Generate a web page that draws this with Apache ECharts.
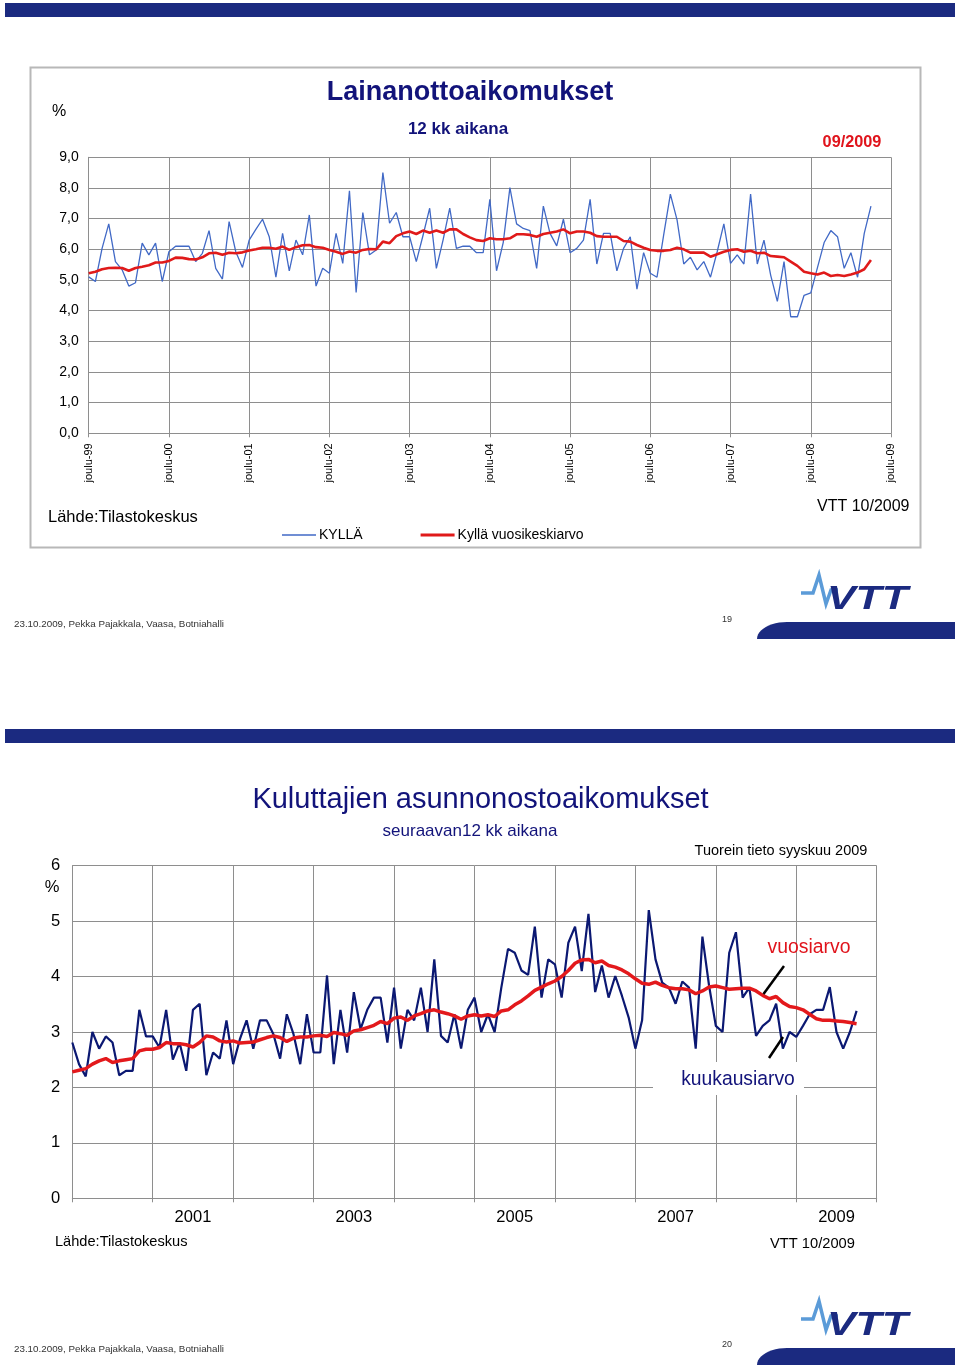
<!DOCTYPE html>
<html><head><meta charset="utf-8">
<script src="https://cdn.jsdelivr.net/npm/echarts@6/dist/echarts.min.js"></script>
<style>html,body{margin:0;padding:0;background:#fff}#c{width:960px;height:1370px}</style>
</head><body><div id="c"></div>
<script>
// ---------- data ----------
const monthNames = ['tammi','helmi','maalis','huhti','touko','kesä','heinä','elo','syys','loka','marras','joulu'];
const firstYear = 1999, firstMonth = 11;   // first slot = joulu-99
const slotCount = 121;                       // joulu-99 ... joulu-09

// Chart 1: Lainanottoaikomukset (KYLLÄ, monthly) 12/1999 - 09/2009
const topMonthly = [
 5.1,4.95,6.03,6.83,5.6,5.33,4.8,4.91,6.2,5.82,6.2,4.95,
 5.92,6.1,6.1,6.1,5.6,5.87,6.61,5.38,5.03,6.9,5.92,5.41,
 6.3,6.65,6.98,6.41,5.09,6.52,5.3,6.3,5.82,7.12,4.8,5.38,
 5.22,6.52,5.54,7.91,4.59,7.2,5.82,5.98,8.5,6.85,7.2,6.41,
 6.41,5.6,6.45,7.34,5.38,6.3,7.34,6.03,6.1,6.1,5.89,5.89,
 7.63,5.3,6.22,8.01,6.83,6.68,6.61,5.38,7.41,6.52,6.11,6.98,
 5.89,6.03,6.3,7.63,5.52,6.52,6.52,5.3,6.03,6.41,4.7,5.89,
 5.22,5.09,6.47,7.8,6.96,5.52,5.74,5.33,5.6,5.09,5.92,6.83,
 5.54,5.82,5.52,7.8,5.52,6.3,5.16,4.3,5.6,3.8,3.8,4.5,
 4.58,5.4,6.22,6.61,6.41,5.38,5.89,5.09,6.52,7.41];
// Kyllä vuosikeskiarvo
const topAnnual = [
 5.22,5.27,5.35,5.39,5.4,5.39,5.3,5.39,5.43,5.48,5.57,5.57,
 5.62,5.73,5.72,5.68,5.67,5.74,5.87,5.89,5.82,5.89,5.87,5.9,
 5.96,6.0,6.05,6.05,6.02,6.09,5.98,6.07,6.13,6.14,6.07,6.05,
 5.98,5.92,5.85,5.93,5.89,5.98,6.01,6.0,6.25,6.2,6.43,6.52,
 6.58,6.5,6.61,6.54,6.61,6.54,6.65,6.65,6.5,6.39,6.3,6.27,
 6.36,6.33,6.33,6.36,6.49,6.49,6.47,6.41,6.5,6.54,6.58,6.65,
 6.52,6.58,6.58,6.54,6.43,6.41,6.41,6.41,6.27,6.25,6.14,6.05,
 5.98,5.95,5.95,5.98,6.05,6.0,5.89,5.89,5.89,5.76,5.84,5.92,
 5.98,6.0,5.92,5.95,5.87,5.89,5.78,5.76,5.74,5.6,5.46,5.27,
 5.22,5.18,5.24,5.13,5.16,5.13,5.18,5.24,5.35,5.65];
const topYLabels = ['0,0','1,0','2,0','3,0','4,0','5,0','6,0','7,0','8,0','9,0'];

// Chart 2: Kuluttajien asunnonostoaikomukset
const bottomMonthly = [
 2.81,2.42,2.2,3.0,2.7,2.92,2.81,2.22,2.3,2.3,3.4,2.92,
 2.92,2.72,3.4,2.5,2.81,2.3,3.4,3.51,2.22,2.63,2.52,3.21,
 2.42,2.87,3.21,2.7,3.21,3.21,2.96,2.52,3.32,2.96,2.42,3.32,
 2.63,2.63,4.02,2.42,3.4,2.63,3.72,3.05,3.4,3.62,3.62,2.81,
 3.8,2.7,3.4,3.21,3.8,3.0,4.31,2.93,2.81,3.32,2.7,3.4,
 3.62,3.0,3.32,3.0,3.8,4.5,4.43,4.11,4.03,4.9,3.62,4.31,
 4.22,3.62,4.61,4.9,4.1,5.13,3.72,4.2,3.62,4.01,3.65,3.26,
 2.7,3.21,5.2,4.31,3.89,3.8,3.51,3.91,3.8,2.7,4.72,3.83,
 3.11,3.0,4.43,4.8,3.62,3.8,2.93,3.11,3.21,3.51,2.7,3.0,
 2.91,3.11,3.32,3.4,3.4,3.81,3.0,2.7,3.0,3.38];
const bottomAnnual = [
 2.28,2.31,2.34,2.42,2.48,2.52,2.45,2.48,2.5,2.52,2.66,2.69,
 2.69,2.72,2.81,2.79,2.79,2.77,2.73,2.81,2.93,2.91,2.84,2.82,
 2.84,2.8,2.81,2.82,2.86,2.9,2.93,2.9,2.83,2.89,2.91,2.91,
 2.93,2.94,2.92,2.99,2.97,2.94,3.02,3.04,3.08,3.12,3.19,3.15,
 3.25,3.27,3.21,3.29,3.33,3.38,3.4,3.36,3.33,3.29,3.23,3.29,
 3.31,3.29,3.31,3.28,3.38,3.4,3.49,3.56,3.65,3.75,3.81,3.87,
 3.92,4.0,4.11,4.24,4.3,4.31,4.25,4.28,4.2,4.17,4.12,4.05,
 3.96,3.88,3.86,3.9,3.84,3.8,3.78,3.78,3.76,3.69,3.74,3.81,
 3.83,3.8,3.77,3.78,3.79,3.79,3.74,3.66,3.6,3.64,3.53,3.46,
 3.44,3.4,3.32,3.24,3.21,3.21,3.2,3.19,3.17,3.15];
const bottomYLabels = ['0','1','2','3','4','5','6'];

// ---------- categories ----------
const cats = [], catYears = [];
for (let i = 0; i < slotCount; i++) {
  const m = (firstMonth + i) % 12;
  const y = firstYear + Math.floor((firstMonth + i) / 12);
  cats.push(monthNames[m] + '-' + String(y).slice(2));
  catYears.push(String(y));
}
const everyYear = (i) => i % 12 === 0;
const oddYearMid = (i) => i % 24 === 18;

const FONT = '"Liberation Sans", Arial, sans-serif';
const NAVY = '#12137a';
const BAR = '#1b2a80';
const GRID = '#8e8e8e';

function txt(text, x, y, size, color, opts) {
  opts = opts || {};
  const align = opts.align || 'left';
  return {
    type: 'text', x: x, y: y, z: 10,
    style: {
      text: text,
      font: (opts.style || '') + ' ' + (opts.weight || 'normal') + ' ' + size + 'px ' + FONT,
      fill: color,
      align: align, verticalAlign: 'middle',
      textAlign: align, textVerticalAlign: 'middle'
    }
  };
}
function footerShape(yTop, yBot) {
  const pts = [[955, yBot], [955, yTop]];
  const cx = 787, rx = 30, ry = yBot - yTop;
  for (let k = 0; k <= 12; k++) {
    const t = Math.PI / 2 * k / 12;
    pts.push([cx - rx * Math.sin(t), yBot - ry * Math.cos(t)]);
  }
  return { type: 'polygon', z: 10, shape: { points: pts }, style: { fill: BAR } };
}
function logo(dy) {
  return [
    { type: 'polyline', z: 10, shape: { points: [[801, 593 + dy], [813, 593 + dy], [819, 575 + dy], [826, 604 + dy], [831, 590 + dy], [838, 590 + dy]] },
      style: { stroke: '#5b9bd8', lineWidth: 3.5, fill: null, lineJoin: 'miter' } },
    { type: 'text', x: 827, y: 600 + dy, z: 10, scaleX: 1.3,
      style: { text: 'VTT', font: 'italic bold 33px ' + FONT, fill: BAR, align: 'left', verticalAlign: 'middle', textAlign: 'left', textVerticalAlign: 'middle' } }
  ];
}

const chart = echarts.init(document.getElementById('c'), null, { renderer: 'canvas' });

const xAxisCommon = {
  type: 'category', data: cats, boundaryGap: false,
  axisLine: { show: true, lineStyle: { color: GRID, width: 1 } },
  axisTick: { show: true, interval: everyYear, length: 4, lineStyle: { color: GRID } },
  splitLine: { show: true, interval: everyYear, lineStyle: { color: GRID, width: 1 } }
};

const option = {
  animation: false,
  backgroundColor: '#ffffff',
  textStyle: { fontFamily: FONT },
  grid: [
    { left: 88.7, top: 157.3, width: 802.3, height: 276, outerBoundsMode: 'none', containLabel: false },
    { left: 72.3, top: 865.7, width: 804.4, height: 332.6, outerBoundsMode: 'none', containLabel: false }
  ],
  xAxis: [
    Object.assign({}, xAxisCommon, {
      gridIndex: 0,
      axisLabel: { interval: everyYear, rotate: 90, margin: 10, fontSize: 11, color: '#000', fontFamily: FONT }
    }),
    Object.assign({}, xAxisCommon, {
      gridIndex: 1,
      axisLabel: { interval: oddYearMid, margin: 11, fontSize: 16.5, color: '#000', fontFamily: FONT,
        formatter: (v, idx) => catYears[idx] }
    })
  ],
  yAxis: [
    { type: 'value', gridIndex: 0, min: 0, max: 9, interval: 1,
      axisLine: { show: true, lineStyle: { color: GRID } }, axisTick: { show: false },
      splitLine: { show: true, lineStyle: { color: GRID, width: 1 } },
      axisLabel: { margin: 10, fontSize: 14, color: '#000', fontFamily: FONT, formatter: (v) => topYLabels[Math.round(v)] } },
    { type: 'value', gridIndex: 1, min: 0, max: 6, interval: 1,
      axisLine: { show: true, lineStyle: { color: GRID } }, axisTick: { show: false },
      splitLine: { show: true, lineStyle: { color: GRID, width: 1 } },
      axisLabel: { margin: 12, fontSize: 16.5, color: '#000', fontFamily: FONT, formatter: (v) => bottomYLabels[Math.round(v)] } }
  ],
  legend: {
    data: [
      { name: 'KYLLÄ', icon: 'path://M0,0h34v1.3h-34z' },
      { name: 'Kyllä vuosikeskiarvo', icon: 'path://M0,0h34v2.8h-34z' }
    ],
    left: 277, top: 523, itemWidth: 34, itemHeight: 14, itemGap: 58,
    textStyle: { fontSize: 14, color: '#000', fontFamily: FONT, padding: [0, 0, 0, -2] },
    selectedMode: false
  },
  series: [
    { name: 'KYLLÄ', type: 'line', xAxisIndex: 0, yAxisIndex: 0, data: topMonthly, symbol: 'none',
      lineStyle: { color: '#4169c6', width: 1.3 }, itemStyle: { color: '#4169c6' }, z: 2 },
    { name: 'Kyllä vuosikeskiarvo', type: 'line', xAxisIndex: 0, yAxisIndex: 0, data: topAnnual, symbol: 'none',
      lineStyle: { color: '#e01a1a', width: 2.6 }, itemStyle: { color: '#e01a1a' }, z: 3 },
    { name: 'kuukausiarvo', type: 'line', xAxisIndex: 1, yAxisIndex: 1, data: bottomMonthly, symbol: 'none',
      lineStyle: { color: '#0b1872', width: 2.2 }, itemStyle: { color: '#0b1872' }, z: 2 },
    { name: 'vuosiarvo', type: 'line', xAxisIndex: 1, yAxisIndex: 1, data: bottomAnnual, symbol: 'none',
      lineStyle: { color: '#e3191c', width: 3.5 }, itemStyle: { color: '#e3191c' }, z: 3 }
  ],
  graphic: { elements: [
    // slide 1
    { type: 'rect', z: 10, shape: { x: 5, y: 3, width: 950, height: 14 }, style: { fill: BAR } },
    { type: 'rect', z: 0, shape: { x: 30.5, y: 67.5, width: 890, height: 480 }, style: { fill: null, stroke: '#b8b8b8', lineWidth: 2 } },
    txt('Lainanottoaikomukset', 470, 93, 27, NAVY, { align: 'center', weight: 'bold' }),
    txt('12 kk aikana', 458, 129, 17, NAVY, { align: 'center', weight: 'bold' }),
    txt('%', 59, 112, 16, '#000', { align: 'center' }),
    txt('09/2009', 852, 143, 16.3, '#e0141c', { align: 'center', weight: 'bold' }),
    txt('Lähde:Tilastokeskus', 48, 517, 16.5, '#000'),
    txt('VTT 10/2009', 817, 507, 16, '#000'),
    txt('23.10.2009, Pekka Pajakkala, Vaasa, Botniahalli', 14, 624, 9.8, '#333'),
    txt('19', 727, 620, 9, '#333', { align: 'center' }),
    footerShape(622, 639),
    ...logo(0),
    // slide 2
    { type: 'rect', z: 10, shape: { x: 5, y: 729, width: 950, height: 14 }, style: { fill: BAR } },
    txt('Kuluttajien asunnonostoaikomukset', 480.5, 800, 29, NAVY, { align: 'center' }),
    txt('seuraavan12 kk aikana', 470, 831, 17, NAVY, { align: 'center' }),
    txt('Tuorein tieto syyskuu 2009', 781, 851, 14.5, '#000', { align: 'center' }),
    txt('%', 52, 887, 16.5, '#000', { align: 'center' }),
    txt('vuosiarvo', 809, 948, 19.4, '#e0141c', { align: 'center' }),
    { type: 'rect', z: 1, shape: { x: 653, y: 1062, width: 151, height: 33 }, style: { fill: '#ffffff' } },
    txt('kuukausiarvo', 738, 1080, 19.3, NAVY, { align: 'center' }),
    { type: 'line', z: 10, shape: { x1: 784, y1: 966, x2: 763.5, y2: 994 }, style: { stroke: '#000', lineWidth: 2.5 } },
    { type: 'line', z: 10, shape: { x1: 783, y1: 1037, x2: 769, y2: 1058 }, style: { stroke: '#000', lineWidth: 2.5 } },
    txt('Lähde:Tilastokeskus', 55, 1242, 14.6, '#000'),
    txt('VTT 10/2009', 770, 1244, 14.7, '#000'),
    txt('23.10.2009, Pekka Pajakkala, Vaasa, Botniahalli', 14, 1349, 9.8, '#333'),
    txt('20', 727, 1345, 9, '#333', { align: 'center' }),
    footerShape(1348, 1365),
    ...logo(726)
  ] }
};
chart.setOption(option);
</script>
</body></html>
